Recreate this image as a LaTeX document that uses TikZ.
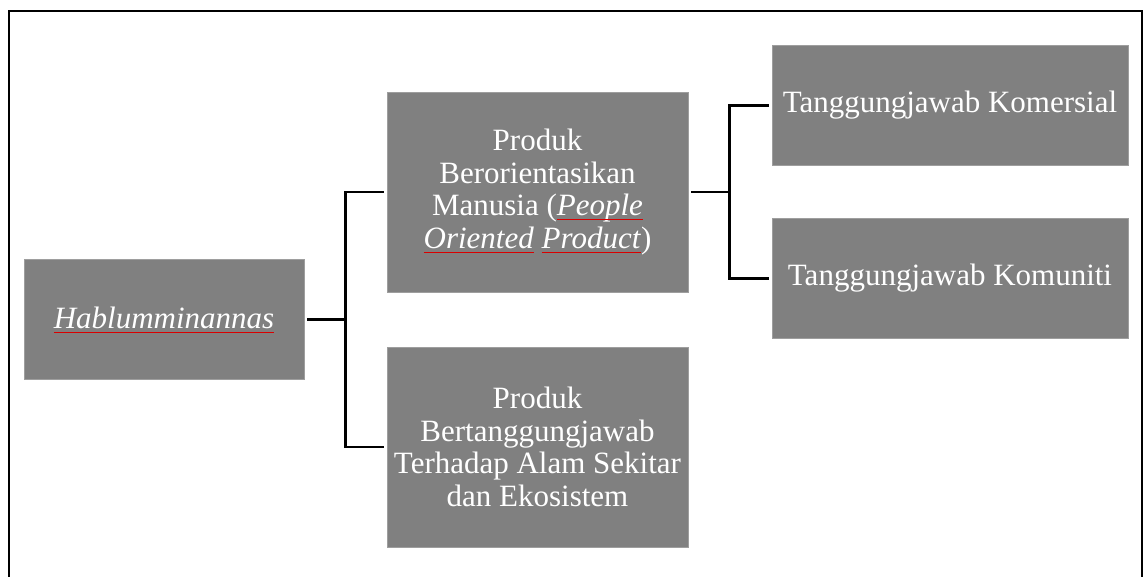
\documentclass[tikz,border=0pt]{standalone}
\usepackage{fontspec}
\setmainfont{Liberation Serif}
\usetikzlibrary{trees}

\newcommand{\redul}[1]{\setbox0\hbox{#1}\leavevmode\copy0\llap{\color{red!85!black}\rule[-0.14em]{\wd0}{0.7pt}}}

\begin{document}
\begin{tikzpicture}[x=1pt,y=1pt,
        box/.style={fill=black!50,draw=black!38,line width=0.6pt,text=white,inner sep=0pt,outer sep=3pt,
            align=center,font=\fontsize{31}{32.7}\selectfont},
        rootbox/.style={box,minimum width=280pt,minimum height=120pt},
        midbox/.style={box,minimum width=301pt,minimum height=200pt},
        leafbox/.style={box,minimum width=356pt,minimum height=120pt},
        edge from parent/.style={draw,line width=2.6pt},
        edge from parent path={(\tikzparentnode.east) -- ++(38.5,0) |- (\tikzchildnode.west)},
        grow'=right,
        level 1/.style={level distance=373.5pt,sibling distance=255pt},
        level 2/.style={level distance=412.5pt,sibling distance=173pt}]
        \useasboundingbox (0,0) rectangle (1144,-577);
        % frame
        \draw[line width=2.6pt] (9,-577) |- (1142,-11) -- (1142,-577);
        \node[rootbox] (hab) at (164,-319.5) {\redul{\emph{Hablumminannas}}}
            child {node[midbox] (orang) {Produk\\Berorientasikan\\Manusia (\redul{\emph{People}}\\\redul{\emph{Oriented}}\ \redul{\emph{Product}})}
                child {node[leafbox] (komersial) {Tanggungjawab Komersial}}
                child {node[leafbox] (komuniti) {Tanggungjawab Komuniti}}
            }
            child {node[midbox] (alam) {Produk\\Bertanggungjawab\\Terhadap Alam Sekitar\\dan Ekosistem}}
            ;
\end{tikzpicture}
\end{document}
